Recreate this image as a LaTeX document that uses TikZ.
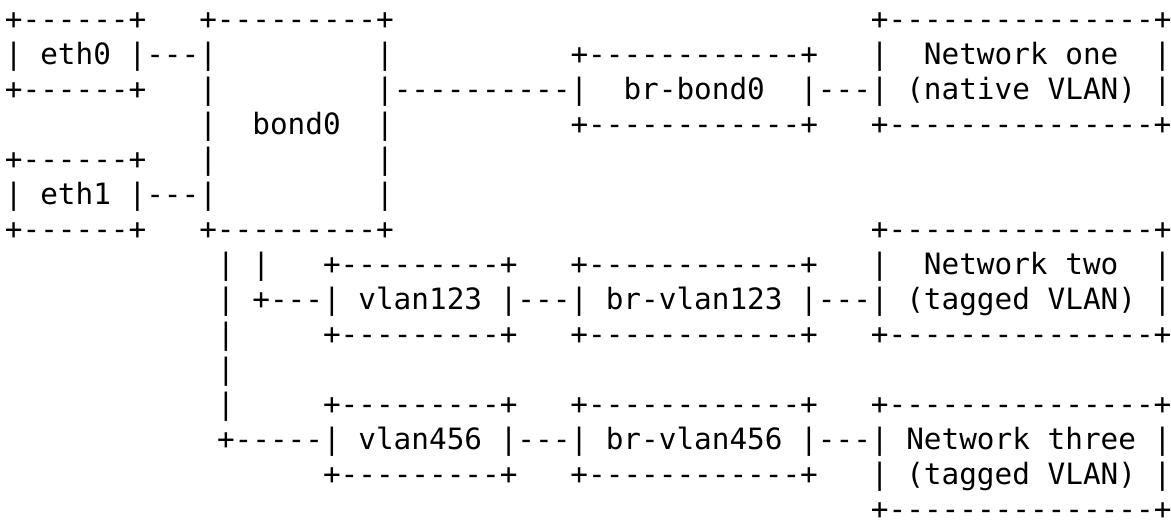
\documentclass[tikz,border=0pt]{standalone}
\usepackage{fontspec}
\setmonofont{DejaVu Sans Mono}
\usepackage{tikz}
\usetikzlibrary{positioning}

% blank run of n character cells
\newcommand\pad[1]{\kern#1\fontcharwd\font`\0\relax}

\begin{document}
\begin{tikzpicture} [
    x=8.835pt,   % one character cell
    y=17.5pt,    % one text line
    ]
% ------------------------------------------------- 
\tikzset{
  asciirow/.style={anchor=base west, inner sep=0pt, font=\ttfamily\fontsize{14.68pt}{17.5pt}\selectfont},
}
    \useasboundingbox (-0.255,0.83) rectangle (66.02,-14.027);

    \node [asciirow] (r0)  at (0,0)   {+------+\pad{3}+---------+\pad{27}+---------------+};
    \node [asciirow] (r1)  at (0,-1)  {| eth0 |---|\pad{9}|\pad{10}+------------+\pad{3}|\pad{2}Network one\pad{2}|};
    \node [asciirow] (r2)  at (0,-2)  {+------+\pad{3}|\pad{9}|----------|\pad{2}br-bond0\pad{2}|---| (native VLAN) |};
    \node [asciirow] (r3)  at (0,-3)  {\pad{11}|\pad{2}bond0\pad{2}|\pad{10}+------------+\pad{3}+---------------+};
    \node [asciirow] (r4)  at (0,-4)  {+------+\pad{3}|\pad{9}|};
    \node [asciirow] (r5)  at (0,-5)  {| eth1 |---|\pad{9}|};
    \node [asciirow] (r6)  at (0,-6)  {+------+\pad{3}+---------+\pad{27}+---------------+};

    \node [asciirow] (r7)  at (0,-7)  {\pad{12}| |\pad{3}+---------+\pad{3}+------------+\pad{3}|\pad{2}Network two\pad{2}|};
    \node [asciirow] (r8)  at (0,-8)  {\pad{12}| +---| vlan123 |---| br-vlan123 |---| (tagged VLAN) |};
    \node [asciirow] (r9)  at (0,-9)  {\pad{12}|\pad{5}+---------+\pad{3}+------------+\pad{3}+---------------+};
    \node [asciirow] (r10) at (0,-10) {\pad{12}|};
    \node [asciirow] (r11) at (0,-11) {\pad{12}|\pad{5}+---------+\pad{3}+------------+\pad{3}+---------------+};
    \node [asciirow] (r12) at (0,-12) {\pad{12}+-----| vlan456 |---| br-vlan456 |---| Network three |};
    \node [asciirow] (r13) at (0,-13) {\pad{18}+---------+\pad{3}+------------+\pad{3}| (tagged VLAN) |};
    \node [asciirow] (r14) at (0,-14) {\pad{49}+---------------+};

\end{tikzpicture}
\end{document}
